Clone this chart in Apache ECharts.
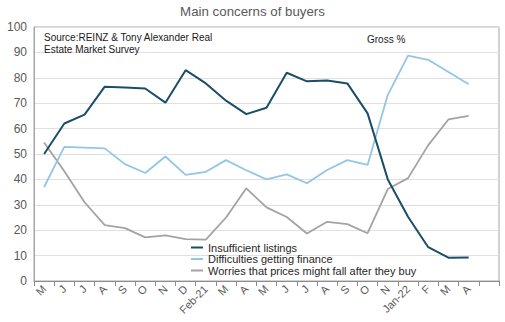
<!DOCTYPE html>
<html>
<head>
<meta charset="utf-8">
<script src="https://cdn.jsdelivr.net/npm/echarts@6/dist/echarts.min.js"></script>
<style>
html,body{margin:0;padding:0;background:#fff;}
#chart{width:505px;height:322px;}
</style>
</head>
<body>
<div id="chart"></div>
<script>
var categories = ['M','J','J','A','S','O','N','D','Feb-21','M','A','M','J','J','A','S','O','N','Jan-22','F','M','A',''];
var yTicks = [0,10,20,30,40,50,60,70,80,90,100];
var listings = [50, 62, 65.5, 76.5, 76.2, 75.8, 70.2, 83, 77.8, 71, 65.7, 68.2, 82, 78.6, 78.9, 77.8, 66, 40, 25.3, 13.3, 9.2, 9.3, null];
var finance = [37, 52.8, 52.5, 52.2, 46, 42.5, 49, 41.8, 43, 47.6, 43.6, 40, 42, 38.5, 43.7, 47.6, 45.7, 73.3, 88.7, 87.1, 82.3, 77.5, null];
var worries = [54.5, 43.2, 31, 22, 20.8, 17.2, 18, 16.5, 16.3, 25, 36.5, 29, 25.2, 18.7, 23.3, 22.4, 18.8, 36.2, 40.5, 53.5, 63.6, 65, null];
var seriesNames = ['Insufficient listings','Difficulties getting finance','Worries that prices might fall after they buy'];
var colors = ['#1A4E66','#93C6E4','#A3A3A3'];

var chart = echarts.init(document.getElementById('chart'), null, {renderer:'svg'});
var font = 'Arial, "Liberation Sans", sans-serif';
chart.setOption({
  animation:false,
  color: colors,
  title:[
    {text:'Main concerns of buyers', left:'center', top:0,
     textStyle:{fontSize:13.3, fontWeight:'normal', color:'#595959', fontFamily:font}},
    {text:'Source:REINZ & Tony Alexander Real\nEstate Market Survey', left:39, top:27,
     textStyle:{fontSize:10, fontWeight:'normal', color:'#1a1a1a', fontFamily:font, lineHeight:11.6}},
    {text:'Gross %', left:362, top:29,
     textStyle:{fontSize:10, fontWeight:'normal', color:'#1a1a1a', fontFamily:font}}
  ],
  legend:{
    orient:'vertical', left:191, top:242, icon:'rect', itemWidth:12, itemHeight:2, itemGap:0.5,
    padding:0,
    textStyle:{fontSize:11, color:'#262626', fontFamily:font, lineHeight:11},
    data: seriesNames
  },
  grid:{left:34, right:6, top:27, bottom:41, show:true, borderColor:'#A6A6A6', borderWidth:1, containLabel:false},
  xAxis:{
    type:'category', data:categories, boundaryGap:true,
    axisLine:{lineStyle:{color:'#8C8C8C'}},
    axisTick:{show:true, length:5, lineStyle:{color:'#8C8C8C'}},
    axisLabel:{interval:0, rotate:45, fontSize:11, color:'#595959', fontFamily:font, margin:6},
    splitLine:{show:false}
  },
  yAxis:{
    type:'value', min:yTicks[0], max:yTicks[yTicks.length-1], interval:10,
    axisLine:{show:true, lineStyle:{color:'#A6A6A6'}},
    axisTick:{show:false},
    axisLabel:{fontSize:12, color:'#595959', fontFamily:font, margin:7},
    splitLine:{lineStyle:{color:'#E0E0E0'}}
  },
  series:[
    {name:seriesNames[0], type:'line', data:listings, symbol:'none', lineStyle:{width:2, color:colors[0]}, z:5},
    {name:seriesNames[1], type:'line', data:finance, symbol:'none', lineStyle:{width:1.8, color:colors[1]}, z:4},
    {name:seriesNames[2], type:'line', data:worries, symbol:'none', lineStyle:{width:1.8, color:colors[2]}, z:3}
  ]
});
</script>
</body>
</html>
